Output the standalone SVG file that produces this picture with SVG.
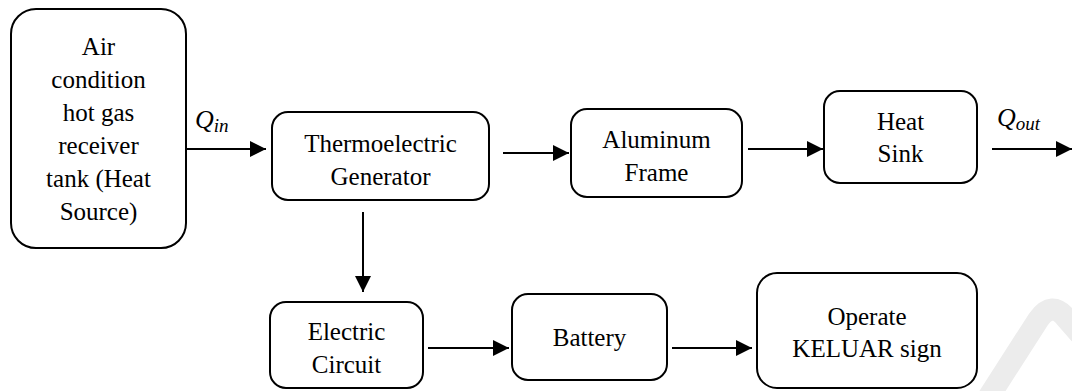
<svg xmlns="http://www.w3.org/2000/svg" width="1072" height="391" viewBox="0 0 1072 391">
<style>
.box{fill:#fff;stroke:#000;stroke-width:2}
text{font-family:"Liberation Serif","Noto Serif","DejaVu Serif",Tinos,"Times New Roman",Times,"Nimbus Roman","FreeSerif",serif}
.t{font-size:25px;fill:#000;text-anchor:middle}
.m{font-style:italic;font-size:26px;fill:#000}
.c{stroke:#000;stroke-width:2;fill:none;marker-end:url(#ah)}
</style>
<defs>
<marker id="ah" markerUnits="userSpaceOnUse" markerWidth="16" markerHeight="16" refX="16" refY="8" orient="auto">
<path d="M0,0 L16,8 L0,16 z" fill="#000"/>
</marker>
</defs>
<rect width="1072" height="391" fill="#fff"/>
<path d="M988 398 L1038 320 Q1052 300 1066 318 L1080 334" fill="none" stroke="#ececec" stroke-width="22"/>
<g id="connectors">
<line class="c" x1="186" y1="149" x2="266" y2="149"/>
<line class="c" x1="503" y1="153" x2="569" y2="153"/>
<line class="c" x1="748" y1="149" x2="823" y2="149"/>
<line class="c" x1="992" y1="149" x2="1072" y2="149"/>
<line class="c" x1="363" y1="212" x2="363" y2="292"/>
<line class="c" x1="428" y1="348" x2="509" y2="348"/>
<line class="c" x1="672" y1="348" x2="752" y2="348"/>
<text class="m" x="195" y="128">Q<tspan font-size="19" dy="4">in</tspan></text>
<text class="m" x="997" y="126">Q<tspan font-size="19" dy="4">out</tspan></text>
</g>
<g id="heat-source">
<rect class="box" x="11" y="9" width="175" height="239" rx="25"/>
<text class="t" x="98.5" y="55">Air</text>
<text class="t" x="98.5" y="88">condition</text>
<text class="t" x="98.5" y="121">hot gas</text>
<text class="t" x="98.5" y="154">receiver</text>
<text class="t" x="98.5" y="187">tank (Heat</text>
<text class="t" x="98.5" y="220">Source)</text>
</g>
<g id="teg">
<rect class="box" x="272" y="112" width="217" height="88" rx="16"/>
<text class="t" x="380.5" y="152">Thermoelectric</text>
<text class="t" x="380.5" y="185">Generator</text>
</g>
<g id="aluminum">
<rect class="box" x="571" y="109" width="171" height="88" rx="16"/>
<text class="t" x="656.5" y="148">Aluminum</text>
<text class="t" x="656.5" y="181">Frame</text>
</g>
<g id="heat-sink">
<rect class="box" x="824" y="91" width="153" height="92" rx="16"/>
<text class="t" x="900.5" y="130">Heat</text>
<text class="t" x="900.5" y="162">Sink</text>
</g>
<g id="electric">
<rect class="box" x="270" y="302" width="153" height="86" rx="16"/>
<text class="t" x="346.5" y="340">Electric</text>
<text class="t" x="346.5" y="373">Circuit</text>
</g>
<g id="battery">
<rect class="box" x="512" y="294" width="155" height="86" rx="16"/>
<text class="t" x="589.5" y="346">Battery</text>
</g>
<g id="operate">
<rect class="box" x="757" y="273" width="220" height="115" rx="20"/>
<text class="t" x="867" y="325">Operate</text>
<text class="t" x="867" y="357">KELUAR sign</text>
</g>
</svg>
